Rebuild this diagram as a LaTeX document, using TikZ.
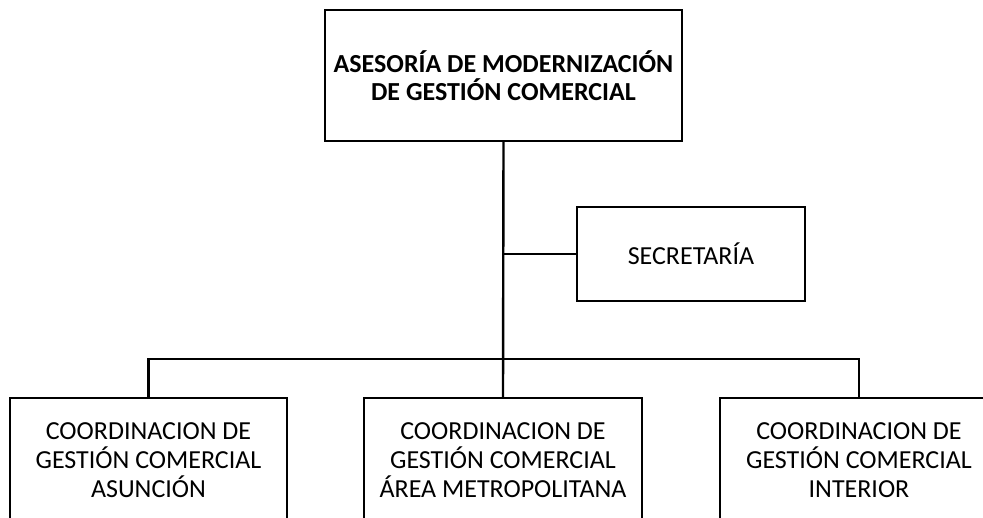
\documentclass[tikz,border=0pt]{standalone}
\usepackage{fontspec}
\setmainfont{Carlito}
\tikzset{
  box/.style={draw=black, line width=2.4pt, fill=white, inner sep=0pt, align=center,
              font=\fontsize{26}{29}\selectfont},
  link/.style={draw=black, line width=2.4pt}
}
\begin{document}
\begin{tikzpicture}[x=1pt,y=-1pt]
\path[use as bounding box, clip] (0,0) rectangle (983,517);
\fill[white] (0,0) rectangle (983,517);
% top box
\node[box, minimum width=357pt, minimum height=131pt, font=\fontsize{26}{28.5}\selectfont\bfseries]
  (top) at (503.5,75.5) {ASESORÍA DE MODERNIZACIÓN\\DE GESTIÓN COMERCIAL};
% secretaria
\node[box, minimum width=228pt, minimum height=94pt] (sec) at (691,254) {SECRETARÍA};
% bottom boxes
\node[box, minimum width=277pt, minimum height=124pt] (b1) at (148.5,460)
  {COORDINACION DE\\GESTIÓN COMERCIAL\\ASUNCIÓN};
\node[box, minimum width=278pt, minimum height=124pt] (b2) at (503,460)
  {COORDINACION DE\\GESTIÓN COMERCIAL\\ÁREA METROPOLITANA};
\node[box, minimum width=278pt, minimum height=124pt] (b3) at (859,460)
  {COORDINACION DE\\GESTIÓN COMERCIAL\\INTERIOR};
\coordinate (bus) at (503,359);
% connectors
\draw[link] (top.south) -- (b2.north);
\draw[link] (sec.west) -- (sec.west -| top.south);
\draw[link] (b1.north) |- (bus) -| (b3.north);
\end{tikzpicture}
\end{document}
